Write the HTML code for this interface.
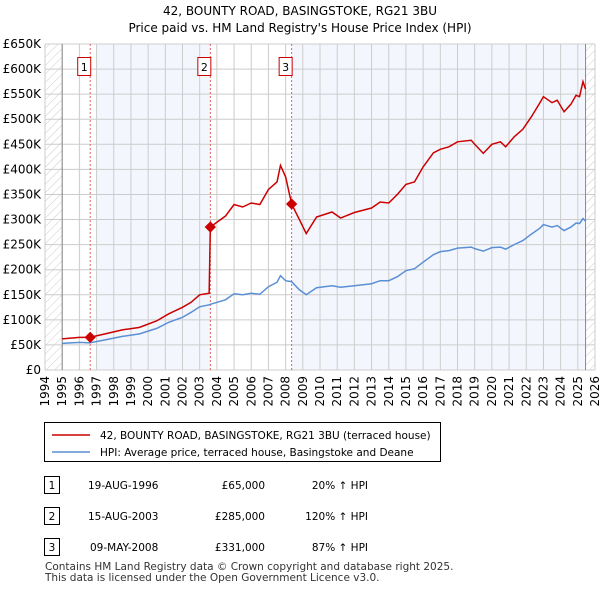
<!DOCTYPE html>
<html><head><meta charset="utf-8"><style>
body{margin:0;background:#fff;font-family:"DejaVu Sans",sans-serif;}
svg text{font-family:"DejaVu Sans",sans-serif;}
</style></head><body>
<svg id="c" width="600" height="590" xmlns="http://www.w3.org/2000/svg">
<defs><pattern id="h" width="6" height="6" patternUnits="userSpaceOnUse" patternTransform="rotate(45)"><line x1="0" y1="0" x2="0" y2="6" stroke="#ccc" stroke-width="1"/></pattern></defs>
<text x="300" y="15" text-anchor="middle" font-size="12">42, BOUNTY ROAD, BASINGSTOKE, RG21 3BU</text>
<text x="300" y="32" text-anchor="middle" font-size="12">Price paid vs. HM Land Registry's House Price Index (HPI)</text>
<g id="plot"></g>
<g>
<rect x="44.5" y="422.5" width="396" height="39" fill="#fff" stroke="#000"/>
<line x1="52" y1="435" x2="90" y2="435" stroke="#cc0000" stroke-width="1.5"/>
<text x="100" y="439" font-size="10.5">42, BOUNTY ROAD, BASINGSTOKE, RG21 3BU (terraced house)</text>
<line x1="52" y1="452" x2="90" y2="452" stroke="#5b8fd4" stroke-width="1.5"/>
<text x="100" y="456" font-size="10.5">HPI: Average price, terraced house, Basingstoke and Deane</text>
</g>
<g font-size="10.5">
<rect x="44.5" y="476.5" width="15" height="17" fill="#fff" stroke="#000"/><text x="52" y="489" text-anchor="middle">1</text>
<text x="88" y="489">19-AUG-1996</text><text x="265" y="489" text-anchor="end">£65,000</text><text x="368" y="489" text-anchor="end">20% ↑ HPI</text>
<rect x="44.5" y="507.5" width="15" height="17" fill="#fff" stroke="#000"/><text x="52" y="520" text-anchor="middle">2</text>
<text x="88" y="520">15-AUG-2003</text><text x="265" y="520" text-anchor="end">£285,000</text><text x="368" y="520" text-anchor="end">120% ↑ HPI</text>
<rect x="44.5" y="538.5" width="15" height="17" fill="#fff" stroke="#000"/><text x="52" y="551" text-anchor="middle">3</text>
<text x="90" y="551">09-MAY-2008</text><text x="265" y="551" text-anchor="end">£331,000</text><text x="368" y="551" text-anchor="end">87% ↑ HPI</text>
</g>
<text x="45" y="570" font-size="10.5" fill="#333">Contains HM Land Registry data © Crown copyright and database right 2025.</text>
<text x="45" y="581" font-size="10.5" fill="#333">This data is licensed under the Open Government Licence v3.0.</text>
</svg>
<script>
const hpiYears=[1995,1996,1996.6,1997.5,1998.5,1999.5,2000.5,2001.2,2002,2002.5,2003,2003.55,2003.62,2004.5,2005,2005.5,2006,2006.5,2007,2007.5,2007.7,2008,2008.35,2008.8,2009.2,2009.8,2010.7,2011.2,2012,2013,2013.5,2014,2014.5,2015,2015.5,2016,2016.6,2017,2017.5,2018,2018.8,2019,2019.5,2020,2020.5,2020.8,2021.3,2021.8,2022.3,2022.8,2023,2023.5,2023.8,2024.2,2024.6,2024.9,2025.1,2025.3,2025.45];
const hpiValues=[53,55,54,60,67,72,83,95,105,115,126,130,131,140,152,150,153,151,166,175,188,178,176,160,150,164,168,165,168,172,178,178,186,198,202,215,230,236,238,243,245,242,237,244,245,241,250,258,271,283,290,285,288,278,285,293,292,302,297];
const priceValues=[62,65,65,72,80,85,98,112,125,135,150,153,285,307,330,325,333,330,360,375,408,385,331,300,272,305,315,303,314,323,335,333,350,370,375,405,433,440,445,455,458,450,432,450,455,445,465,480,505,533,545,533,538,515,530,548,545,575,560];
const saleYears=[1996.63,2003.62,2008.35];
const salePrices=[65,285,331];
const yTicks=[0,50,100,150,200,250,300,350,400,450,500,550,600,650];
const xTicks=[1994,1995,1996,1997,1998,1999,2000,2001,2002,2003,2004,2005,2006,2007,2008,2009,2010,2011,2012,2013,2014,2015,2016,2017,2018,2019,2020,2021,2022,2023,2024,2025,2026];
const X=y=>45+(y-1994)*(550/32);
const Y=v=>370-v*(326/650);
const NS="http://www.w3.org/2000/svg";
const g=document.getElementById('plot');
function mk(t,a,p){const e=document.createElementNS(NS,t);for(const k in a)e.setAttribute(k,a[k]);(p||g).appendChild(e);return e;}
let r;
r=mk('rect',{x:X(1997),y:Y(650),width:X(2003.62)-X(1997),height:Y(0)-Y(650),fill:'#eef3fc',opacity:0.7});


r=mk('rect',{x:X(2008.35),y:Y(650),width:X(2025.45)-X(2008.35),height:Y(0)-Y(650),fill:'#eef3fc',opacity:0.7});


r=mk('rect',{x:X(1994),y:Y(650),width:X(1995)-X(1994),height:Y(0)-Y(650),fill:'url(#h)'});


r=mk('rect',{x:X(2025.45),y:Y(650),width:X(2026)-X(2025.45),height:Y(0)-Y(650),fill:'url(#h)'});


yTicks.forEach(v=>{
 mk('line',{x1:X(1994),x2:X(2026),y1:Y(v),y2:Y(v),stroke:'#ccc'});
 const t=mk('text',{x:41,y:Y(v)+4,'text-anchor':'end','font-size':12});
 t.textContent=v===0?'£0':'£'+v+'K';
 
 
});
xTicks.forEach(yr=>{
 mk('line',{x1:X(yr),x2:X(yr),y1:Y(0),y2:Y(650),stroke:'#ccc'});
 const t=mk('text',{x:0,y:0,'font-size':12,'text-anchor':'end',transform:`translate(${X(yr)+4},${Y(0)+6}) rotate(-90)`});
 t.textContent=yr;
 
 
});
mk('line',{x1:X(1995),x2:X(1995),y1:Y(0),y2:Y(650),stroke:'#888'});
mk('line',{x1:X(2025.45),x2:X(2025.45),y1:Y(0),y2:Y(650),stroke:'#888'});
saleYears.forEach((yr,i)=>{
 mk('line',{x1:X(yr),x2:X(yr),y1:Y(0),y2:Y(650),stroke:'#e06060','stroke-dasharray':'2,2'});
 const b=mk('rect',{x:X(yr)-12.5,y:57.5,width:13,height:18,fill:'#fff',stroke:'#cc0000'});
 
 
 const t=mk('text',{x:X(yr)-6,y:71,'text-anchor':'middle','font-size':11});
 t.textContent=i+1;
});
const pl=(vals,col,name)=>{const p=mk('polyline',{points:hpiYears.map((y,i)=>X(y)+','+Y(vals[i])).join(' '),fill:'none',stroke:col,'stroke-width':1.5});
 
 };
pl(hpiValues,'#5b8fd4','hpi-line');
pl(priceValues,'#cc0000','price-paid-line');
saleYears.forEach((yr,i)=>{
 const d=mk('rect',{x:X(yr)-4,y:Y(salePrices[i])-4,width:8,height:8,fill:'#cc0000',transform:`rotate(45 ${X(yr)} ${Y(salePrices[i])})`});
 
 
});
</script>
</body></html>
